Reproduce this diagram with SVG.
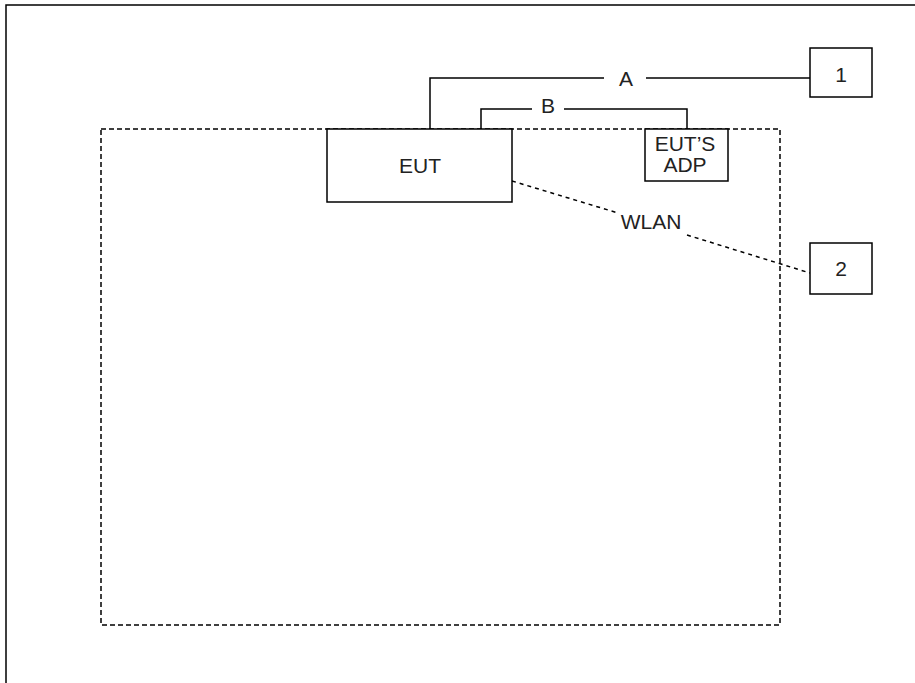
<svg xmlns="http://www.w3.org/2000/svg" width="915" height="683" viewBox="0 0 915 683">
<style>
.box{fill:#fff;stroke:#000;stroke-width:1.5}
.ln{fill:none;stroke:#000;stroke-width:1.5}
.dash{fill:none;stroke:#000;stroke-width:1.5;stroke-dasharray:5 3}
.wlan{fill:none;stroke:#000;stroke-width:1.5;stroke-dasharray:4 4}
text{font-family:"Liberation Sans",Arial,sans-serif;font-size:21px;fill:#222;text-anchor:middle}
</style>
<rect width="915" height="683" fill="#fff"/>
<path class="ln" d="M6,683 V5 H915"/>
<rect id="enclosure" class="dash" x="101" y="129" width="679" height="496"/>
<g id="connectors">
<path class="ln" d="M430,129 V78 H604"/>
<path class="ln" d="M646,78 H810"/>
<text x="626" y="86">A</text>
<path class="ln" d="M481,129 V109 H532"/>
<path class="ln" d="M564,109 H687 V129"/>
<text x="548" y="113">B</text>
<path class="wlan" d="M512,181 L618,213"/>
<path class="wlan" d="M687,235 L810,273"/>
<text x="651" y="229">WLAN</text>
</g>
<g id="eut">
<rect class="box" x="327" y="129" width="185" height="73"/>
<text x="420" y="173">EUT</text>
</g>
<g id="adp">
<rect class="box" x="645" y="129" width="83" height="52"/>
<text x="685" y="151">EUT’S</text>
<text x="685" y="172">ADP</text>
</g>
<g id="n1">
<rect class="box" x="810" y="48" width="62" height="49"/>
<text x="841" y="82">1</text>
</g>
<g id="n2">
<rect class="box" x="810" y="243" width="62" height="51"/>
<text x="841" y="276">2</text>
</g>
</svg>
